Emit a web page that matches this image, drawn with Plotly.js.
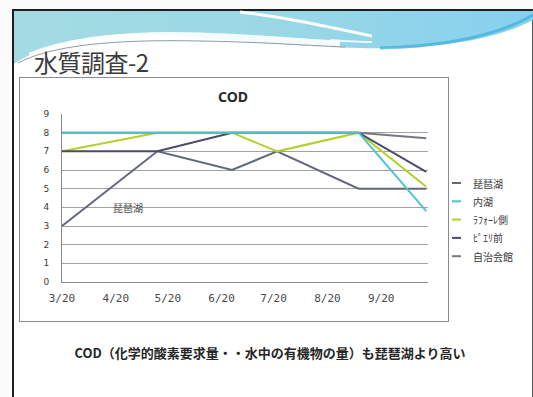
<!DOCTYPE html>
<html>
<head>
<meta charset="utf-8">
<script src="https://cdn.plot.ly/plotly-3.0.1.min.js"></script>
<style>
  html, body { margin: 0; padding: 0; background: #fbfbfb; }
  #slide { position: relative; width: 533px; height: 397px; overflow: hidden; }
  #frame {
    position: absolute; left: 12px; top: 9px; width: 518px; height: 386px;
    background: #ffffff;
    border-left: 2px solid #1e1e1e; border-top: 2px solid #1e1e1e; border-right: 1px solid #555;
  }
  #wave { position: absolute; left: 0; top: 0; }
  #heading {
    position: absolute; left: 34px; top: 44px;
    font-family: "Noto Sans CJK JP", sans-serif; font-size: 24px; color: #3c3c3c;
    letter-spacing: -0.5px;
  }
  #chartbox {
    position: absolute; left: 19px; top: 77px; width: 428px; height: 243px;
    border: 1px solid #8c8c8c; background: #ffffff;
  }
  #caption {
    position: absolute; left: 0; width: 540px; top: 343px; text-align: center;
    font-family: "Noto Sans CJK JP", sans-serif; font-size: 13px; font-weight: bold; color: #262626;
  }
  #chart { position: absolute; left: 0; top: 0; width: 533px; height: 397px; }
</style>
</head>
<body>
<div id="slide">
  <div id="frame"></div>
  <!-- header swoosh of the slide template -->
  <svg id="wave" width="533" height="100">
    <defs>
      <linearGradient id="band" x1="0" y1="0" x2="1" y2="0">
        <stop offset="0" stop-color="#a3dbe2"/>
        <stop offset="0.5" stop-color="#9ad8e6"/>
        <stop offset="1" stop-color="#86d0ee"/>
      </linearGradient>
    </defs>
    <path d="M14,11 L533,11 L533,20 C500,38 440,50 360,48 C280,46 200,36 140,34 C90,33 40,46 14,64 Z" fill="url(#band)"/>
    <path d="M30,56 C70,40 130,34 200,36 C260,38 300,42 340,44" fill="none" stroke="#ffffff" stroke-width="7" opacity="0.9"/>
    <path d="M18,63 C50,46 110,39 200,41 C260,42 300,45 345,47" fill="none" stroke="#8d9ca3" stroke-width="1"/>
    <path d="M240,12 C290,18 330,27 372,36" fill="none" stroke="#ffffff" stroke-width="3" opacity="0.95"/>
    <path d="M330,40 C345,41 360,42 372,42" fill="none" stroke="#ffffff" stroke-width="2" opacity="0.8"/>
    <path d="M380,48 C450,46 500,34 533,15" fill="none" stroke="#3fb1df" stroke-width="3" opacity="0.75"/>
  </svg>
  <div id="heading">水質調査-2</div>
  <div id="chartbox"></div>
  <div id="caption">COD（化学的酸素要求量・・水中の有機物の量）も琵琶湖より高い</div>
  <div id="chart"></div>
</div>
<script>
// Sampling dates and COD readings (mg/L) at each site
const sampleDates = ['2012-03-20', '2012-05-14', '2012-06-26', '2012-07-22', '2012-09-07', '2012-10-16'];
const biwako      = [3, 7, 6, 7, 5, 5];
const naiko       = [8, 8, 8, 8, 8, 3.8];
const laforet     = [7, 8, 8, 7, 8, 5.1];
const pieri       = [7, 7, 8, 8, 8, 5.9];
const jichikaikan = [8, 8, 8, 8, 8, 7.7];

const seriesNames  = ['琵琶湖', '内湖', 'ﾗﾌｫｰﾚ側', 'ﾋﾟｴﾘ前', '自治会館'];
const seriesValues = [biwako, naiko, laforet, pieri, jichikaikan];
const seriesColors = ['#62687c', '#4cc3d0', '#b6cf2c', '#4c4a6c', '#767884'];

// Axis ticks
const tickDates  = ['2012-03-20', '2012-04-20', '2012-05-20', '2012-06-20', '2012-07-20', '2012-08-20', '2012-09-20'];
const tickLabels = ['3/20', '4/20', '5/20', '6/20', '7/20', '8/20', '9/20'];
const yTicks     = [0, 1, 2, 3, 4, 5, 6, 7, 8, 9];

// Plot area in page pixels
const W = 533, H = 397;
const plotL = 62, plotR = 428, plotT = 114, plotB = 282;
const px = x => (x - plotL) / (plotR - plotL);
const py = y => (plotB - y) / (plotB - plotT);

// Draw order keeps 内湖 on top where several sites share 8
const drawOrder = [0, 2, 3, 4, 1];
const traces = drawOrder.map(i => ({
  type: 'scatter', mode: 'lines',
  x: sampleDates, y: seriesValues[i], name: seriesNames[i],
  line: { color: seriesColors[i], width: 2 },
  showlegend: false, hoverinfo: 'x+y+name'
}));

// Legend placed beside the chart frame
const shapes = [], annotations = [];
seriesNames.forEach((name, i) => {
  const yy = 183 + i * 18.3;
  shapes.push({
    type: 'line', xref: 'paper', yref: 'paper',
    x0: px(452), x1: px(461), y0: py(yy), y1: py(yy),
    line: { color: seriesColors[i], width: 2 }
  });
  annotations.push({
    xref: 'paper', yref: 'paper', x: px(471), y: py(yy),
    xanchor: 'left', yanchor: 'middle', showarrow: false,
    text: name, font: { family: 'Noto Sans CJK JP', size: 10, color: '#3a3a3a' }
  });
});

// Label next to the 琵琶湖 line
annotations.push({
  x: '2012-04-27', y: 4, xref: 'x', yref: 'y', showarrow: false,
  text: '琵琶湖', font: { family: 'Noto Sans CJK JP', size: 10, color: '#505050' }
});

const layout = {
  width: W, height: H,
  margin: { l: plotL, r: W - plotR, t: plotT, b: H - plotB, pad: 0 },
  paper_bgcolor: 'rgba(0,0,0,0)', plot_bgcolor: 'rgba(0,0,0,0)',
  showlegend: false,
  title: {
    text: '<b>COD</b>', xref: 'container', x: 233 / W, yref: 'container', y: 1 - 97 / H,
    xanchor: 'center', yanchor: 'middle',
    font: { family: 'Noto Sans', size: 14, color: '#2a2a2a' }
  },
  xaxis: {
    type: 'date', range: ['2012-03-20', '2012-10-17'],
    tickmode: 'array', tickvals: tickDates, ticktext: tickLabels,
    showgrid: false, zeroline: false, showline: true, linecolor: '#8a8a8a', linewidth: 1,
    ticks: '', ticklabelstandoff: 6,
    tickfont: { family: 'DejaVu Sans Mono', size: 11, color: '#4a4a4a' }
  },
  yaxis: {
    range: [0, 9], tickmode: 'array', tickvals: yTicks,
    showgrid: true, gridcolor: '#a2a2a2', gridwidth: 1,
    zeroline: false, showline: true, linecolor: '#8a8a8a', linewidth: 1,
    ticks: '', ticklabelstandoff: 10,
    tickfont: { family: 'DejaVu Sans', size: 9, color: '#3a3a3a' }
  },
  shapes: shapes,
  annotations: annotations
};

Plotly.newPlot('chart', traces, layout, { displayModeBar: false, staticPlot: true });
</script>
</body>
</html>
